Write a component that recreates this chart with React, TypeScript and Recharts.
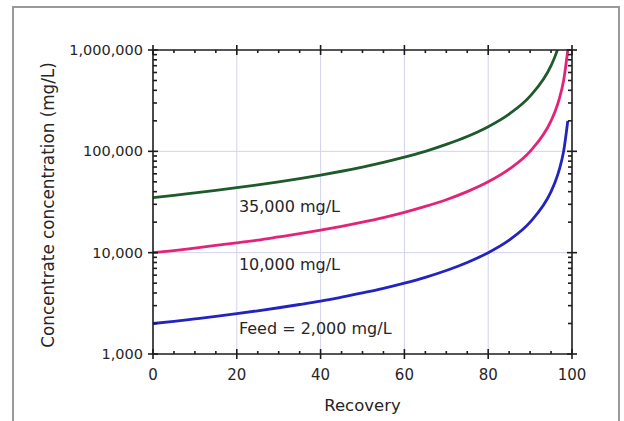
import React from 'react';
import { LineChart, Line, XAxis, YAxis, CartesianGrid, ReferenceDot, Label } from 'recharts';

// recovery (%) sample points
const recovery = [0, 5, 10, 15, 20, 25, 30, 35, 40, 45, 50, 55, 60, 65, 70, 75, 80, 85, 90, 95, 96, 97, 98, 99];
const recoveryGreen = [0, 5, 10, 15, 20, 25, 30, 35, 40, 45, 50, 55, 60, 65, 70, 75, 80, 85, 90, 95, 96, 96.5];

// concentrate concentration (mg/L) per curve
const feed2000 = [2000, 2100, 2220, 2350, 2500, 2670, 2860, 3080, 3330, 3640, 4000, 4440, 5000, 5710, 6670, 8000, 10000, 13300, 20000, 40000, 50000, 66700, 100000, 200000];
const feed10000 = [10000, 10500, 11100, 11800, 12500, 13300, 14300, 15400, 16700, 18200, 20000, 22200, 25000, 28600, 33300, 40000, 50000, 66700, 100000, 200000, 250000, 333000, 500000, 1000000];
const feed35000 = [35000, 36800, 38900, 41200, 43800, 46700, 50000, 53800, 58300, 63600, 70000, 77800, 87500, 100000, 117000, 140000, 175000, 233000, 350000, 700000, 875000, 1000000];

const xTicks = [0, 5, 10, 15, 20, 25, 30, 35, 40, 45, 50, 55, 60, 65, 70, 75, 80, 85, 90, 95, 100];
const xLabels = [0, 20, 40, 60, 80, 100];
const yMajor = [1000, 10000, 100000, 1000000];
const yTicks = [
  1000, 2000, 3000, 4000, 5000, 6000, 7000, 8000, 9000,
  10000, 20000, 30000, 40000, 50000, 60000, 70000, 80000, 90000,
  100000, 200000, 300000, 400000, 500000, 600000, 700000, 800000, 900000,
  1000000,
];

const notes = [
  { x: 20.5, y: 28900, text: '35,000 mg/L' },
  { x: 20.5, y: 7730, text: '10,000 mg/L' },
  { x: 20.5, y: 1810, text: 'Feed = 2,000 mg/L' },
];

const FONT = '"DejaVu Sans", Arial, sans-serif';
const INK = '#1c1c1c';
const TEXT = '#262626';

const blueData = recovery.map((r, i) => ({ r, c: feed2000[i] }));
const pinkData = recovery.map((r, i) => ({ r, c: feed10000[i] }));
const greenData = recoveryGreen.map((r, i) => ({ r, c: feed35000[i] }));

const isMajorX = (v: number) => xLabels.includes(v);
const isMajorY = (v: number) => yMajor.includes(v);

const BottomTick = ({ x, y, payload }: any) => {
  const v = payload.value;
  const major = isMajorX(v);
  return (
    <g>
      {major
        ? <line x1={x} x2={x} y1={y - 5} y2={y + 5} stroke={INK} strokeWidth={1.6} />
        : <line x1={x} x2={x} y1={y} y2={y - 3} stroke={INK} strokeWidth={1.6} />}
      {major && (
        <text x={x} y={y + 21} textAnchor="middle" dominantBaseline="central" fill={TEXT} fontSize={15} fontFamily={FONT}>
          {v}
        </text>
      )}
    </g>
  );
};

const TopTick = ({ x, y, payload }: any) => {
  const major = isMajorX(payload.value);
  return major
    ? <line x1={x} x2={x} y1={y - 5} y2={y + 5} stroke={INK} strokeWidth={1.6} />
    : <line x1={x} x2={x} y1={y} y2={y + 3} stroke={INK} strokeWidth={1.6} />;
};

const LeftTick = ({ x, y, payload }: any) => {
  const v = payload.value;
  const major = isMajorY(v);
  return (
    <g>
      {major
        ? <line x1={x - 5} x2={x + 5} y1={y} y2={y} stroke={INK} strokeWidth={1.6} />
        : <line x1={x} x2={x + 4} y1={y} y2={y} stroke={INK} strokeWidth={1.6} />}
      {major && (
        <text x={x - 10} y={y} textAnchor="end" dominantBaseline="central" fill={TEXT} fontSize={14.5} fontFamily={FONT}>
          {v.toLocaleString('en-US')}
        </text>
      )}
    </g>
  );
};

const RightTick = ({ x, y, payload }: any) => {
  const major = isMajorY(payload.value);
  return major
    ? <line x1={x - 5} x2={x + 5} y1={y} y2={y} stroke={INK} strokeWidth={1.6} />
    : <line x1={x} x2={x - 4} y1={y} y2={y} stroke={INK} strokeWidth={1.6} />;
};

const YTitle = ({ viewBox }: any) => {
  const cx = viewBox.x + viewBox.width - 105;
  const cy = viewBox.y + viewBox.height / 2 + 3;
  return (
    <text x={cx} y={cy} transform={`rotate(-90, ${cx}, ${cy})`} textAnchor="middle" dominantBaseline="central" fill={TEXT} fontSize={16.8} fontFamily={FONT}>
      Concentrate concentration (mg/L)
    </text>
  );
};

export default function App() {
  return (
    <div style={{ position: 'absolute', left: 0, top: 0, width: 624, height: 421, background: '#fff', overflow: 'hidden' }}>
      <div style={{ position: 'absolute', left: 12, top: 6, width: 608, height: 440, border: '2px solid #999', boxSizing: 'border-box' }} />
      <div style={{ position: 'absolute', left: 0, top: 0 }}>
        <LineChart width={624} height={421} margin={{ top: 49, right: 51, bottom: 66, left: 152 }}>
          <CartesianGrid
            stroke="#d2d2ec"
            strokeWidth={1}
            horizontalValues={[10000, 100000]}
            verticalValues={[20, 40, 60, 80]}
          />
          <XAxis
            type="number"
            dataKey="r"
            domain={[0, 100]}
            ticks={xTicks}
            interval={0}
            height={1}
            tickSize={0}
            tickMargin={0}
            allowDataOverflow
            axisLine={{ stroke: INK, strokeWidth: 1.6 }}
            tick={<BottomTick />}
          >
            <Label value="Recovery" position="bottom" offset={44} fill={TEXT} fontSize={16.5} fontFamily={FONT} />
          </XAxis>
          <XAxis
            xAxisId="top"
            orientation="top"
            type="number"
            dataKey="r"
            domain={[0, 100]}
            ticks={xTicks}
            interval={0}
            height={1}
            tickSize={0}
            tickMargin={0}
            allowDataOverflow
            axisLine={{ stroke: INK, strokeWidth: 1.6 }}
            tick={<TopTick />}
          />
          <YAxis
            scale="log"
            domain={[1000, 1000000]}
            ticks={yTicks}
            interval={0}
            width={1}
            tickSize={0}
            tickMargin={0}
            allowDataOverflow
            axisLine={{ stroke: INK, strokeWidth: 1.6 }}
            tick={<LeftTick />}
          >
            <Label content={<YTitle />} />
          </YAxis>
          <YAxis
            yAxisId="right"
            orientation="right"
            scale="log"
            domain={[1000, 1000000]}
            ticks={yTicks}
            interval={0}
            width={1}
            tickSize={0}
            tickMargin={0}
            allowDataOverflow
            axisLine={{ stroke: INK, strokeWidth: 1.6 }}
            tick={<RightTick />}
          />
          <Line data={blueData} dataKey="c" type="monotone" stroke="#2323c2" strokeWidth={2.8} dot={false} isAnimationActive={false} />
          <Line data={pinkData} dataKey="c" type="monotone" stroke="#e3237a" strokeWidth={2.8} dot={false} isAnimationActive={false} />
          <Line data={greenData} dataKey="c" type="monotone" stroke="#1f5a2c" strokeWidth={2.8} dot={false} isAnimationActive={false} />
          {notes.map((n) => (
            <ReferenceDot key={n.text} x={n.x} y={n.y} r={0} fill="none" stroke="none" ifOverflow="visible">
              <Label value={n.text} position="right" offset={0} fill={TEXT} fontSize={16} fontFamily={FONT} />
            </ReferenceDot>
          ))}
        </LineChart>
      </div>
    </div>
  );
}
